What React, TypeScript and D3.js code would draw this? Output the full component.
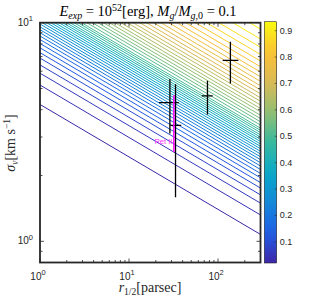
import React from "react";
import * as d3 from "d3";

// contour levels and the σ_v (km/s) each contour has at r_1/2 = 1 pc
const contourLevels = [0.02, 0.04, 0.06, 0.08, 0.10, 0.12, 0.14, 0.16, 0.18, 0.20, 0.22, 0.24, 0.26, 0.28, 0.30, 0.32, 0.34, 0.36, 0.38, 0.40, 0.42, 0.44, 0.46, 0.48, 0.50, 0.52, 0.54, 0.56, 0.58, 0.60, 0.62, 0.64, 0.66, 0.68, 0.70, 0.72, 0.74, 0.76, 0.78, 0.80, 0.82, 0.84, 0.86, 0.88, 0.90, 0.92];
const contourSigmaAtR1 = [4.227, 5.188, 5.875, 6.412, 6.887, 7.295, 7.674, 8.035, 8.375, 8.690, 8.995, 9.290, 9.572, 9.863, 10.14, 10.42, 10.69, 10.96, 11.25, 11.51, 11.78, 12.05, 12.36, 12.65, 12.94, 13.37, 13.84, 14.32, 14.83, 15.38, 15.92, 16.52, 17.18, 17.82, 18.58, 19.36, 20.23, 21.18, 22.23, 23.39, 24.72, 26.24, 28.12, 30.34, 33.11, 36.73];
const contourSlope = -0.24; // log σ vs log r
const contourRange = [1, 300];

// observed dwarfs: r_1/2 (pc) with error range, σ_v (km/s) with error range
const obsR = [28.8, 33.3, 76.1, 137.7];
const obsRLo = [21.7, 29.1, 65.7, 112.9];
const obsRHi = [36.3, 38.6, 87.2, 169.2];
const obsSigma = [4.31, 3.39, 4.63, 6.72];
const obsSigmaLo = [3.11, 1.59, 3.80, 5.27];
const obsSigmaHi = [5.52, 5.23, 5.42, 8.18];

// Ret II
const retR = [31.9];
const retSigmaLo = [2.56];
const retSigmaHi = [4.66];
const retLabel = ["Ret II"];

const xTickValues = [1, 10, 100];
const xTickExp = ["0", "1", "2"];
const yTickValues = [1, 10];
const yTickExp = ["0", "1"];
const cbTicks = [0.1, 0.2, 0.3, 0.4, 0.5, 0.6, 0.7, 0.8, 0.9];
const cbDomain = [0.02, 0.934];

const parula = ["#3e26a8", "#1f5ee6", "#1488d8", "#08a9c8", "#38b99e", "#92bf73", "#d9ba56", "#fcc235", "#f9fb0e"];

export default function App() {
  const W = 316, H = 300;
  const L = 40, R = 260.5, T = 22.7, B = 262.5;
  const x = d3.scaleLog().domain([1, 300]).range([L, R]);
  const y = d3.scaleLog().domain([0.8, 10]).range([B, T]);
  const cmap = d3.piecewise(d3.interpolateRgb, parula);
  const cnorm = d3.scaleLinear().domain(cbDomain).range([0, 1]).clamp(true);
  const color = (v: number) => cmap(cnorm(v));
  const line = d3.line<[number, number]>().x((d) => x(d[0])).y((d) => y(d[1]));

  const cbX0 = 264.3, cbX1 = 276.7, cbT = 21.7, cbB = 263;
  const cbY = d3.scaleLinear().domain(cbDomain).range([cbB, cbT]);
  const gradStops = d3.range(0, 1.0001, 0.05);

  const xMinor = x.ticks().filter((t) => !xTickValues.includes(t));
  const yMinor = y.ticks().filter((t) => !yTickValues.some((v) => Math.abs(v - t) < 1e-9));
  const axisColor = "#262626";
  const font = "'Liberation Sans', Arial, sans-serif";
  const serif = "'Liberation Serif', 'Times New Roman', serif";

  return (
    <svg width={W} height={H} style={{ position: "absolute", left: 0, top: 0, background: "#fff" }}>
      <defs>
        <clipPath id="plotclip">
          <rect x={L} y={T} width={R - L} height={B - T} />
        </clipPath>
        <linearGradient id="cbgrad" x1="0" y1="1" x2="0" y2="0">
          {gradStops.map((s, i) => (
            <stop key={i} offset={s} stopColor={cmap(s)} />
          ))}
        </linearGradient>
      </defs>
      <rect x={0} y={0} width={W} height={H} fill="#fff" />
      <g clipPath="url(#plotclip)">
        {contourLevels.map((lv, i) => {
          const pts: [number, number][] = contourRange.map((r) => [r, contourSigmaAtR1[i] * Math.pow(r, contourSlope)]);
          return <path key={i} d={line(pts) || ""} fill="none" stroke={color(lv)} strokeWidth={1} />;
        })}
        {obsR.map((r, i) => (
          <g key={i} stroke="#000" strokeWidth={1.3}>
            <line x1={x(r)} x2={x(r)} y1={y(obsSigmaLo[i])} y2={y(obsSigmaHi[i])} />
            <line x1={x(obsRLo[i])} x2={x(obsRHi[i])} y1={y(obsSigma[i])} y2={y(obsSigma[i])} />
          </g>
        ))}
        {retR.map((r, i) => (
          <g key={i}>
            <line x1={x(r)} x2={x(r)} y1={y(retSigmaLo[i])} y2={y(retSigmaHi[i])} stroke="#ff00ff" strokeWidth={1.5} />
            <text x={x(r) - 1.5} y={y(retSigmaLo[i]) - 8} fontSize={7.5} fill="#ff33ff" textAnchor="end" fontFamily={font}>
              {retLabel[i]}
            </text>
          </g>
        ))}
      </g>
      {/* ticks */}
      <g stroke={axisColor} strokeWidth={0.8}>
        {xTickValues.map((t, i) => (
          <g key={"xm" + i}>
            <line x1={x(t)} x2={x(t)} y1={B} y2={B - 4} />
            <line x1={x(t)} x2={x(t)} y1={T} y2={T + 4} />
          </g>
        ))}
        {xMinor.map((t, i) => (
          <g key={"xn" + i}>
            <line x1={x(t)} x2={x(t)} y1={B} y2={B - 2.5} />
            <line x1={x(t)} x2={x(t)} y1={T} y2={T + 2.5} />
          </g>
        ))}
        {yTickValues.map((t, i) => (
          <g key={"ym" + i}>
            <line x1={L} x2={L + 4} y1={y(t)} y2={y(t)} />
            <line x1={R} x2={R - 4} y1={y(t)} y2={y(t)} />
          </g>
        ))}
        {yMinor.map((t, i) => (
          <g key={"yn" + i}>
            <line x1={L} x2={L + 2.5} y1={y(t)} y2={y(t)} />
            <line x1={R} x2={R - 2.5} y1={y(t)} y2={y(t)} />
          </g>
        ))}
      </g>
      <rect x={L} y={T} width={R - L} height={B - T} fill="none" stroke={axisColor} strokeWidth={1.8} />
      {/* tick labels */}
      <g fontFamily={font} fontSize={10} fill={axisColor}>
        {xTickValues.map((t, i) => (
          <text key={"xl" + i} x={x(t) - 2} y={B + 17} textAnchor="middle">
            10<tspan dy={-4.5} fontSize={7.5}>{xTickExp[i]}</tspan>
          </text>
        ))}
        {yTickValues.map((t, i) => (
          <text key={"yl" + i} x={L - 7} y={y(t) + 3} textAnchor="end">
            10<tspan dy={-4.5} fontSize={7.5}>{yTickExp[i]}</tspan>
          </text>
        ))}
      </g>
      {/* colorbar */}
      <rect x={cbX0} y={cbT} width={cbX1 - cbX0} height={cbB - cbT} fill="url(#cbgrad)" stroke={axisColor} strokeWidth={0.6} />
      <g fontFamily={font} fontSize={9} fill={axisColor}>
        {cbTicks.map((t, i) => (
          <g key={"cb" + i}>
            <line x1={cbX1} x2={cbX1 - 2} y1={cbY(t)} y2={cbY(t)} stroke={axisColor} strokeWidth={0.6} />
            <text x={cbX1 + 3} y={cbY(t) + 3}>{t.toFixed(1)}</text>
          </g>
        ))}
      </g>
      {/* title */}
      <text x={148} y={16} textAnchor="middle" fontFamily={serif} fontSize={14.5} fill="#000">
        <tspan fontStyle="italic">E</tspan>
        <tspan fontStyle="italic" fontSize={10} dy={3}>exp</tspan>
        <tspan dy={-3}> = 10</tspan>
        <tspan fontSize={10} dy={-5.5}>52</tspan>
        <tspan dy={5.5}>[erg], </tspan>
        <tspan fontStyle="italic">M</tspan>
        <tspan fontStyle="italic" fontSize={10} dy={3}>g</tspan>
        <tspan dy={-3}>/</tspan>
        <tspan fontStyle="italic">M</tspan>
        <tspan fontSize={10} dy={3}><tspan fontStyle="italic">g</tspan>,0</tspan>
        <tspan dy={-3}> = 0.1</tspan>
      </text>
      {/* x label */}
      <text x={150} y={292} textAnchor="middle" fontFamily={serif} fontSize={14} fill={axisColor}>
        <tspan fontStyle="italic">r</tspan>
        <tspan fontSize={9.5} dy={3}>1/2</tspan>
        <tspan dy={-3}>[parsec]</tspan>
      </text>
      {/* y label */}
      <text transform="translate(15,143) rotate(-90)" textAnchor="middle" fontFamily={serif} fontSize={14} fill={axisColor}>
        <tspan fontStyle="italic">σ</tspan>
        <tspan fontStyle="italic" fontSize={9.5} dy={3}>v</tspan>
        <tspan dy={-3}>[km s</tspan>
        <tspan fontSize={9.5} dy={-5.5}>−1</tspan>
        <tspan dy={5.5}>]</tspan>
      </text>
    </svg>
  );
}
